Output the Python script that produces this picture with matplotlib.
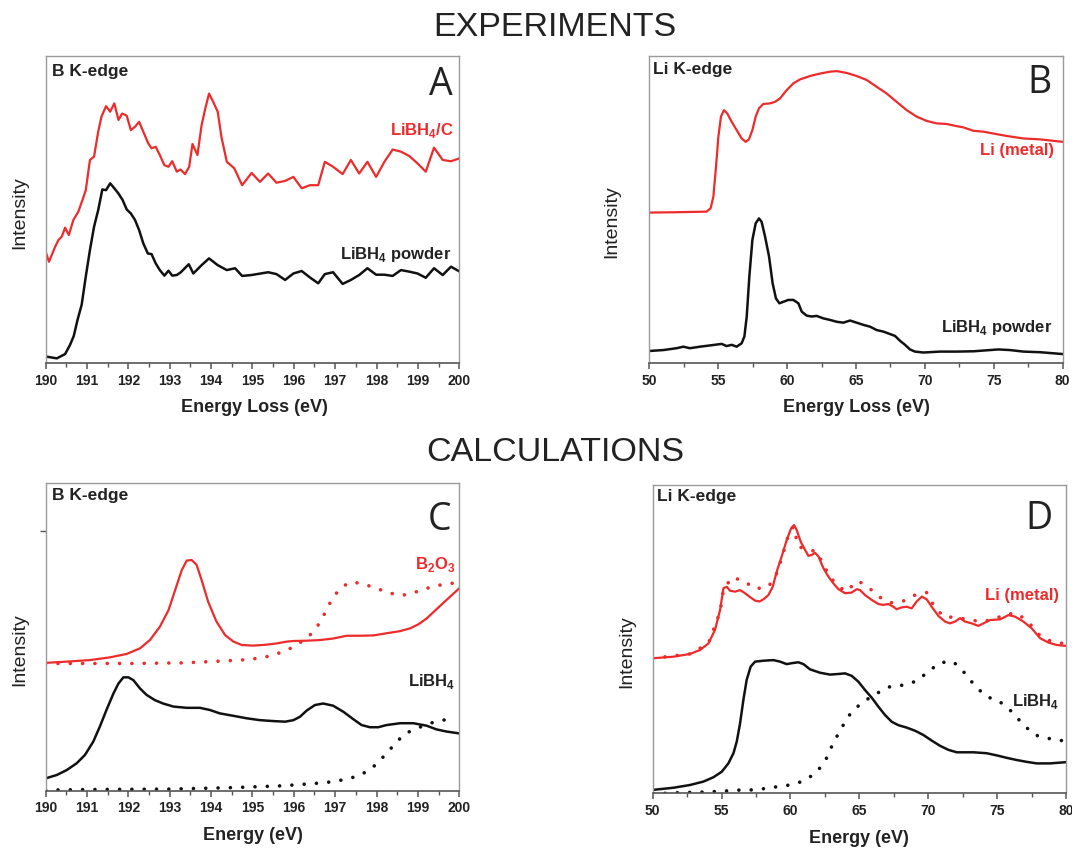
import numpy as np
import matplotlib
matplotlib.use("Agg")
import matplotlib.pyplot as plt
from matplotlib.ticker import MultipleLocator

plt.rcParams['font.family'] = ['Liberation Sans', 'DejaVu Sans']
plt.rcParams['mathtext.fontset'] = 'custom'
plt.rcParams['mathtext.rm'] = 'Liberation Sans'
plt.rcParams['mathtext.bf'] = 'Liberation Sans:bold'

RED = '#ee2b2b'
BLACK = '#111111'

# ---- panel A: experiment, B K-edge ----
a_red_x = [190.00, 190.08, 190.23, 190.31, 190.39, 190.47, 190.56, 190.67, 190.79, 190.89,
           190.97, 191.07, 191.17, 191.27, 191.35, 191.46, 191.56, 191.66, 191.76, 191.85,
           191.96, 192.06, 192.16, 192.26, 192.36, 192.48, 192.56, 192.66, 192.76, 192.87,
           192.97, 193.06, 193.17, 193.26, 193.37, 193.47, 193.55, 193.67, 193.77, 193.85,
           193.95, 194.05, 194.16, 194.25, 194.38, 194.56, 194.75, 194.98, 195.18, 195.38,
           195.58, 195.79, 195.99, 196.19, 196.39, 196.59, 196.75, 196.95, 197.18, 197.38,
           197.58, 197.78, 197.99, 198.19, 198.39, 198.59, 198.79, 198.99, 199.19, 199.39,
           199.60, 199.80, 200.00]
a_red_y = [36.3, 33.0, 37.9, 40.1, 41.2, 44.1, 41.7, 46.6, 49.3, 53.1,
           56.3, 66.1, 67.2, 75.3, 80.2, 83.6, 81.8, 84.5, 79.1, 81.2,
           80.5, 75.8, 76.9, 78.5, 75.3, 71.5, 69.9, 70.4, 67.7, 64.4,
           63.9, 65.7, 62.3, 63.0, 61.5, 63.9, 71.3, 67.7, 77.4, 82.3,
           87.7, 85.0, 81.8, 73.6, 65.5, 63.4, 57.9, 61.9, 59.0, 61.7,
           58.7, 59.3, 60.6, 56.9, 57.9, 57.9, 65.5, 63.9, 61.5, 66.1,
           61.7, 65.5, 60.6, 65.5, 69.5, 68.8, 67.4, 65.0, 62.3, 70.1,
           66.1, 65.7, 66.6]
a_blk_x = [190.00, 190.27, 190.47, 190.59, 190.68, 190.77, 190.87, 190.97, 191.07, 191.17,
           191.27, 191.37, 191.46, 191.56, 191.66, 191.76, 191.86, 191.96, 192.06, 192.16,
           192.26, 192.36, 192.47, 192.56, 192.66, 192.76, 192.87, 192.97, 193.06, 193.17,
           193.26, 193.46, 193.57, 193.77, 193.95, 194.16, 194.38, 194.58, 194.75, 194.98,
           195.38, 195.58, 195.79, 195.99, 196.19, 196.39, 196.59, 196.75, 196.95, 197.18,
           197.38, 197.58, 197.78, 197.99, 198.19, 198.39, 198.59, 198.79, 198.99, 199.19,
           199.39, 199.60, 199.80, 200.00]
a_blk_y = [2.2, 1.6, 3.0, 6.0, 8.9, 14.1, 19.0, 28.2, 36.8, 44.4,
           49.8, 56.5, 56.3, 58.5, 56.9, 55.2, 53.1, 50.0, 48.7, 46.6,
           43.3, 39.0, 35.7, 35.5, 32.5, 30.3, 28.5, 30.1, 28.5, 28.7,
           29.5, 32.2, 29.2, 31.9, 34.1, 31.9, 30.3, 30.9, 28.4, 28.7,
           29.6, 29.0, 27.1, 29.2, 30.0, 27.9, 26.0, 29.0, 29.6, 25.8,
           27.1, 28.7, 30.9, 28.8, 28.8, 28.4, 30.3, 29.8, 29.2, 27.8,
           30.9, 28.7, 31.4, 29.9]

# ---- panel B: experiment, Li K-edge ----
b_red_x = [50.0, 51.74, 52.95, 54.16, 54.45, 54.65, 54.84, 55.01, 55.20, 55.42,
           55.66, 55.98, 56.34, 56.70, 56.99, 57.23, 57.48, 57.72, 57.96, 58.27,
           58.76, 59.12, 59.48, 59.97, 60.45, 60.94, 61.66, 62.39, 63.11, 63.60,
           64.32, 65.05, 65.78, 66.50, 67.23, 67.95, 68.68, 69.40, 70.13, 70.86,
           71.58, 72.31, 72.79, 73.52, 74.24, 74.97, 75.94, 77.15, 78.36, 80.0]
b_red_y = [49.0, 49.1, 49.2, 49.3, 50.4, 54.2, 63.9, 73.6, 80.2, 82.3,
           81.2, 78.5, 75.8, 73.1, 72.0, 72.8, 75.8, 80.2, 82.9, 84.3,
           84.5, 85.0, 86.1, 88.8, 91.0, 92.3, 93.4, 94.2, 94.8, 95.0,
           94.4, 93.4, 92.1, 89.9, 87.7, 85.0, 82.3, 80.2, 78.8, 78.0,
           77.8, 77.1, 76.7, 75.6, 75.3, 74.7, 73.9, 73.1, 72.8, 72.0]
b_blk_x = [50.0, 51.02, 51.98, 52.47, 52.95, 53.68, 54.40, 55.25, 55.61, 55.98,
           56.34, 56.70, 56.90, 57.07, 57.26, 57.48, 57.72, 57.96, 58.15, 58.40,
           58.69, 58.95, 59.19, 59.44, 59.73, 60.09, 60.45, 60.82, 61.06, 61.42,
           61.78, 62.15, 62.63, 63.11, 63.60, 64.08, 64.57, 65.05, 65.53, 66.02,
           66.50, 66.99, 67.47, 67.83, 68.20, 68.56, 68.92, 69.28, 69.89, 71.10,
           72.31, 73.52, 74.73, 75.33, 76.18, 77.15, 78.36, 80.0]
b_blk_y = [4.0, 4.3, 4.9, 5.4, 4.9, 5.4, 5.8, 6.3, 5.6, 6.0,
           5.4, 6.5, 8.7, 15.2, 28.2, 40.1, 45.5, 47.1, 46.0, 41.2,
           34.7, 26.0, 21.1, 19.5, 20.0, 20.6, 20.6, 19.5, 16.8, 15.5,
           15.2, 15.4, 14.6, 14.1, 13.5, 13.2, 13.9, 13.2, 12.5, 11.9,
           10.8, 10.3, 9.5, 8.9, 7.3, 6.0, 4.5, 3.8, 3.5, 3.8,
           3.8, 3.9, 4.3, 4.5, 4.3, 3.8, 3.6, 3.0]

# ---- panel C: calculation, B K-edge ----
c_red_x = [190.0, 190.51, 191.07, 191.56, 191.96, 192.28, 192.52, 192.76, 192.97, 193.13,
           193.29, 193.41, 193.53, 193.65, 193.77, 193.93, 194.13, 194.34, 194.54, 194.74,
           195.02, 195.34, 195.58, 195.83, 195.99, 196.31, 196.63, 196.95, 197.28, 197.60,
           197.92, 198.24, 198.57, 198.81, 199.01, 199.21, 199.45, 199.69, 200.0]
c_red_y = [41.5, 41.9, 42.4, 43.3, 44.4, 46.2, 48.9, 53.2, 58.6, 65.1,
           71.6, 74.7, 74.9, 73.3, 68.4, 61.3, 54.9, 50.5, 48.4, 47.3,
           47.1, 47.4, 47.8, 48.4, 48.6, 48.7, 48.9, 49.4, 50.3, 50.3,
           50.4, 51.1, 51.8, 52.7, 54.0, 55.9, 58.9, 61.9, 65.7]
c_red_dot_x = [190.0, 190.91, 192.12, 193.33, 194.13, 194.94, 195.34, 195.75, 195.99, 196.19,
               196.39, 196.59, 196.75, 196.91, 197.03, 197.16, 197.40, 197.68, 198.00, 198.32,
               198.65, 198.97, 199.29, 199.61, 199.94]
c_red_dot_y = [41.3, 41.3, 41.3, 41.5, 42.0, 42.6, 43.5, 45.1, 46.7, 48.4,
               50.5, 53.8, 57.6, 61.9, 64.1, 66.2, 67.8, 67.1, 65.7, 64.1,
               63.5, 64.6, 66.0, 67.0, 67.5]
c_blk_x = [190.0, 190.27, 190.51, 190.75, 190.95, 191.15, 191.31, 191.47, 191.64, 191.76,
           191.88, 192.0, 192.12, 192.28, 192.44, 192.64, 192.84, 193.09, 193.41, 193.73,
           193.97, 194.21, 194.54, 194.86, 195.18, 195.50, 195.79, 195.99, 196.15, 196.31,
           196.51, 196.71, 196.95, 197.20, 197.44, 197.64, 197.84, 198.04, 198.24, 198.57,
           198.89, 199.21, 199.45, 199.69, 200.0]
c_blk_y = [4.0, 5.1, 6.7, 8.9, 11.6, 15.9, 20.8, 26.2, 31.6, 34.8,
           36.8, 36.8, 35.9, 33.2, 31.1, 29.4, 28.3, 27.3, 26.9, 26.9,
           26.2, 25.1, 24.3, 23.5, 22.9, 22.6, 22.4, 22.9, 24.0, 26.0,
           27.8, 28.3, 27.6, 25.6, 23.2, 21.3, 20.6, 20.6, 21.3, 21.9,
           21.9, 21.1, 19.9, 19.2, 18.6]
c_blk_dot_x = [190.0, 191.31, 192.93, 194.54, 195.75, 196.55, 196.95, 197.36, 197.60, 197.86,
               198.15, 198.40, 198.67, 198.97, 199.29, 199.57, 199.90]
c_blk_dot_y = [0.2, 0.4, 0.5, 1.0, 1.6, 2.4, 2.9, 4.0, 5.1, 6.9,
               10.8, 14.5, 18.4, 20.2, 21.9, 22.7, 24.0]
c_ytick = [84.3]

# ---- panel D: calculation, Li K-edge ----
d_red_x = [50.0, 51.50, 52.71, 53.44, 54.04, 54.52, 54.89, 55.13, 55.37, 55.61,
           55.98, 56.34, 56.70, 57.07, 57.43, 57.74, 58.03, 58.40, 58.71, 59.00,
           59.36, 59.73, 60.04, 60.26, 60.45, 60.74, 61.06, 61.30, 61.54, 61.78,
           62.03, 62.39, 62.75, 63.11, 63.48, 63.96, 64.44, 64.81, 65.05, 65.41,
           65.90, 66.38, 66.74, 67.11, 67.47, 67.71, 68.07, 68.44, 68.80, 69.16,
           69.53, 69.89, 70.25, 70.74, 71.22, 71.58, 71.95, 72.31, 72.67, 73.16,
           73.64, 74.00, 74.49, 75.21, 75.82, 76.30, 76.91, 77.51, 78.12, 78.72,
           79.33, 80.0]
d_red_y = [43.8, 44.3, 45.2, 46.5, 48.6, 53.0, 59.5, 66.5, 67.0, 65.7,
           65.4, 65.9, 64.9, 63.6, 62.5, 62.2, 62.9, 64.3, 67.0, 71.9,
           76.8, 82.2, 85.9, 87.0, 85.4, 81.6, 78.9, 77.0, 77.3, 78.0,
           76.8, 73.0, 70.3, 68.1, 66.2, 64.9, 65.1, 66.2, 65.9, 64.3,
           62.7, 61.4, 61.1, 61.4, 60.5, 59.7, 60.3, 60.5, 60.0, 62.2,
           63.8, 62.9, 60.5, 57.5, 55.7, 55.1, 55.7, 56.8, 55.7, 55.1,
           54.3, 55.1, 56.2, 56.4, 57.8, 57.3, 55.7, 53.5, 50.3, 48.9,
           48.1, 47.8]
d_red_dot_x = [50.0, 52.71, 54.04, 54.89, 55.13, 55.73, 56.58, 57.43, 58.40, 59.00,
               59.36, 59.85, 60.21, 60.57, 61.18, 61.90, 62.87, 63.96, 64.93, 65.78,
               66.74, 67.35, 68.20, 69.04, 69.89, 70.37, 71.10, 72.07, 73.03, 73.88,
               74.73, 75.70, 76.54, 77.39, 78.12, 78.96, 79.81]
d_red_dot_y = [43.8, 45.2, 48.6, 58.9, 65.9, 70.0, 69.0, 66.3, 67.0, 71.3,
               76.2, 83.8, 86.5, 80.0, 79.1, 78.4, 70.0, 65.4, 68.9, 66.3,
               62.7, 61.8, 62.4, 64.3, 65.1, 61.1, 57.3, 57.0, 56.2, 55.7,
               56.4, 58.2, 58.2, 54.9, 51.1, 49.2, 48.6]
d_blk_x = [50.0, 51.50, 52.71, 53.68, 54.40, 55.01, 55.49, 55.86, 56.10, 56.34,
           56.58, 56.82, 57.11, 57.43, 58.03, 58.76, 59.24, 59.73, 60.09, 60.57,
           60.94, 61.42, 62.15, 62.87, 63.48, 63.96, 64.44, 64.93, 65.41, 65.90,
           66.38, 66.86, 67.35, 67.83, 68.44, 69.04, 69.65, 70.25, 70.86, 71.46,
           72.07, 73.28, 74.24, 74.97, 75.70, 76.42, 77.15, 77.87, 78.84, 80.0]
d_blk_y = [1.1, 1.8, 2.7, 3.8, 5.2, 7.0, 9.7, 13.0, 16.8, 22.7,
           30.3, 36.8, 41.1, 42.7, 43.0, 43.2, 42.7, 41.9, 42.2, 42.5,
           41.9, 40.2, 39.1, 38.5, 38.7, 38.9, 38.1, 36.2, 33.5, 31.0,
           28.1, 25.4, 23.2, 22.1, 21.3, 20.3, 18.9, 17.1, 15.4, 14.1,
           13.3, 13.3, 13.0, 12.3, 11.5, 10.8, 10.2, 9.7, 9.7, 10.1]
d_blk_dot_x = [50.0, 51.02, 51.86, 52.71, 53.68, 54.65, 55.49, 56.46, 57.31, 58.27,
               59.12, 59.97, 60.82, 61.78, 62.51, 62.87, 63.36, 63.84, 64.44, 65.29,
               66.26, 67.23, 68.20, 69.16, 70.01, 70.86, 71.82, 72.67, 73.40, 74.24,
               75.09, 76.06, 76.91, 77.75, 78.72, 79.69]
d_blk_dot_y = [0.0, 0.0, 0.2, 0.3, 0.4, 0.6, 0.8, 1.1, 1.1, 1.6,
               2.2, 2.7, 3.8, 6.3, 10.3, 14.1, 18.4, 22.2, 26.5, 29.7,
               32.4, 34.6, 35.1, 36.4, 39.5, 42.4, 42.7, 38.9, 34.8, 31.3,
               30.1, 26.5, 22.2, 18.9, 17.8, 17.1]

DOTS = (0, (0.01, 3.4))


def style_axes(ax, xlim, major, minor, xlabel):
    ax.set_xlim(*xlim)
    ax.set_ylim(0, 100)
    ax.xaxis.set_major_locator(MultipleLocator(major))
    ax.xaxis.set_minor_locator(MultipleLocator(minor))
    ax.set_yticks([])
    for s in ['top', 'right', 'left']:
        ax.spines[s].set_color('#9a9a9a')
        ax.spines[s].set_linewidth(1.0)
    ax.spines['bottom'].set_color('#555555')
    ax.spines['bottom'].set_linewidth(1.2)
    ax.tick_params(axis='x', which='major', direction='out', length=4.5, width=1.1,
                   color='#555555', pad=3, labelsize=10, labelcolor='#222222')
    ax.tick_params(axis='x', which='minor', direction='out', length=3, width=1.0,
                   color='#555555')
    for lab in ax.get_xticklabels():
        lab.set_fontweight('bold')
    ax.set_xlabel(xlabel, fontsize=13, fontweight='bold', color='#222222', va='center')
    ax.set_ylabel('Intensity', fontsize=14, color='#222222', va='center')


def annotate(ax, edge, letter, edge_pos, letter_pos):
    ax.text(edge_pos[0], edge_pos[1], edge, transform=ax.transAxes, fontsize=12.5,
            fontweight='bold', color='#222222', ha='left', va='center')
    ax.text(letter_pos[0], letter_pos[1], letter, transform=ax.transAxes, fontsize=27,
            family='Open Sans', color='#222222', ha='right', va='center')


fig = plt.figure(figsize=(10.72, 8.48), dpi=100)
axA = fig.add_axes([0.0426, 0.5716, 0.3858, 0.3627])
axB = fig.add_axes([0.6057, 0.5716, 0.3856, 0.3627])
axC = fig.add_axes([0.0426, 0.0676, 0.3858, 0.3632])
axD = fig.add_axes([0.6089, 0.0645, 0.3855, 0.3636])

# A
axA.plot(a_red_x, a_red_y, color=RED, lw=1.6)
axA.plot(a_blk_x, a_blk_y, color=BLACK, lw=1.8)
style_axes(axA, (190, 200), 1, 0.5, 'Energy Loss (eV)')
axA.xaxis.set_label_coords(0.505, -0.145)
axA.yaxis.set_label_coords(-0.062, 0.489)
annotate(axA, 'B K-edge', 'A', (0.015, 0.948), (0.985, 0.905))
axA.text(0.987, 0.758, r'LiBH$_\mathbf{4}$/C', transform=axA.transAxes, fontsize=12,
         fontweight='bold', color=RED, ha='right', va='center')
axA.text(0.982, 0.355, r'LiBH$_\mathbf{4}$ powder', transform=axA.transAxes, fontsize=12,
         fontweight='bold', color='#222222', ha='right', va='center')

# B
axB.plot(b_red_x, b_red_y, color=RED, lw=1.6)
axB.plot(b_blk_x, b_blk_y, color=BLACK, lw=1.8)
style_axes(axB, (50, 80), 5, 2.5, 'Energy Loss (eV)')
axB.xaxis.set_label_coords(0.5, -0.145)
axB.yaxis.set_label_coords(-0.091, 0.46)
annotate(axB, 'Li K-edge', 'B', (0.01, 0.956), (0.972, 0.91))
axB.text(0.978, 0.693, 'Li (metal)', transform=axB.transAxes, fontsize=12,
         fontweight='bold', color=RED, ha='right', va='center')
axB.text(0.976, 0.117, r'LiBH$_\mathbf{4}$ powder', transform=axB.transAxes, fontsize=12,
         fontweight='bold', color='#222222', ha='right', va='center')

# C
axC.plot(c_red_dot_x, c_red_dot_y, color=RED, lw=2.6, ls=DOTS, dash_capstyle='round')
axC.plot(c_red_x, c_red_y, color=RED, lw=1.6)
axC.plot(c_blk_dot_x, c_blk_dot_y, color=BLACK, lw=2.6, ls=DOTS, dash_capstyle='round')
axC.plot(c_blk_x, c_blk_y, color=BLACK, lw=1.8)
style_axes(axC, (190, 200), 1, 0.5, 'Energy (eV)')
axC.set_yticks(c_ytick)
axC.set_yticklabels([])
axC.tick_params(axis='y', direction='out', length=4, width=1.0, color='#555555')
axC.xaxis.set_label_coords(0.5, -0.144)
axC.yaxis.set_label_coords(-0.062, 0.457)
annotate(axC, 'B K-edge', 'C', (0.015, 0.957), (0.98, 0.879))
axC.text(0.99, 0.733, r'B$_\mathbf{2}$O$_\mathbf{3}$', transform=axC.transAxes, fontsize=12,
         fontweight='bold', color=RED, ha='right', va='center')
axC.text(0.99, 0.354, r'LiBH$_\mathbf{4}$', transform=axC.transAxes, fontsize=12,
         fontweight='bold', color='#222222', ha='right', va='center')

# D
axD.plot(d_red_dot_x, d_red_dot_y, color=RED, lw=2.6, ls=DOTS, dash_capstyle='round')
axD.plot(d_red_x, d_red_y, color=RED, lw=1.6)
axD.plot(d_blk_dot_x, d_blk_dot_y, color=BLACK, lw=2.6, ls=DOTS, dash_capstyle='round')
axD.plot(d_blk_x, d_blk_y, color=BLACK, lw=1.8)
style_axes(axD, (50, 80), 5, 2.5, 'Energy (eV)')
axD.xaxis.set_label_coords(0.5, -0.146)
axD.yaxis.set_label_coords(-0.063, 0.459)
annotate(axD, 'Li K-edge', 'D', (0.01, 0.962), (0.968, 0.891))
axD.text(0.984, 0.643, 'Li (metal)', transform=axD.transAxes, fontsize=12,
         fontweight='bold', color=RED, ha='right', va='center')
axD.text(0.984, 0.297, r'LiBH$_\mathbf{4}$', transform=axD.transAxes, fontsize=12,
         fontweight='bold', color='#222222', ha='right', va='center')

fig.text(555 / 1072, 1 - 27 / 848, 'EXPERIMENTS', fontsize=24.5, color='#222222',
         ha='center', va='center')
fig.text(555 / 1072, 1 - 452 / 848, 'CALCULATIONS', fontsize=24.5, color='#222222',
         ha='center', va='center')

fig.savefig('out.png', dpi=100)
